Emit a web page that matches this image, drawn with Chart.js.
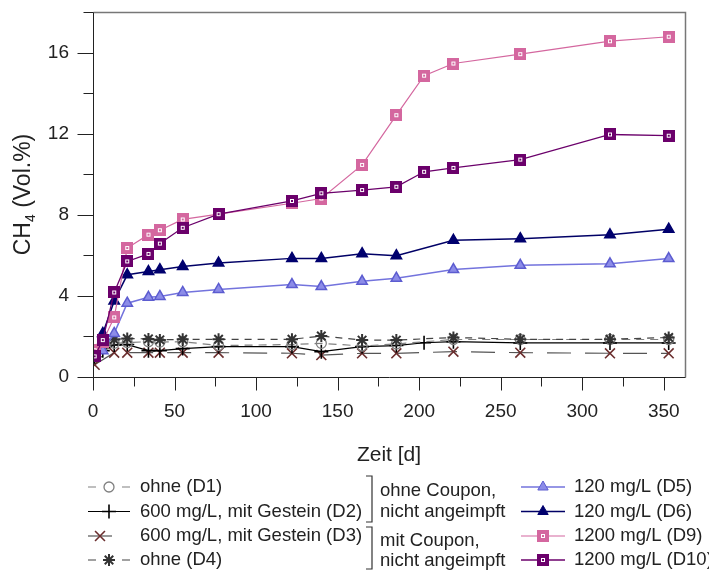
<!DOCTYPE html>
<html>
<head>
<meta charset="utf-8">
<script src="https://cdn.jsdelivr.net/npm/chart.js@4/dist/chart.umd.min.js"></script>
<style>
  body { margin: 0; background: #fff; }
  #wrap { width: 709px; height: 573px; }
</style>
</head>
<body>
<div id="wrap"><canvas id="chartCH4" width="709" height="573"></canvas></div>
<script>
// Messzeitpunkte (Tage)
const days = [1, 6, 13, 21, 34, 41, 55, 77, 122, 140, 165, 186, 203, 221, 262, 317, 353];

// CH4-Gehalt (Vol.%) je Ansatz, null = kein Messwert
const d1  = [1.1, 1.5, 1.66, 1.7, 1.74, 1.72, 1.74, 1.55, 1.6, 1.66, 1.53, 1.63, null, 1.85, 1.85, 1.85, 1.85];
const d2  = [1.0, 1.3, 1.58, 1.6, 1.3, 1.3, 1.4, 1.5, 1.5, 1.25, 1.5, 1.55, 1.69, 1.74, 1.68, 1.68, 1.68];
const d3  = [0.6, null, 1.2, 1.2, 1.2, 1.2, 1.2, 1.2, 1.17, 1.08, 1.17, 1.17, null, 1.25, 1.2, 1.17, 1.17];
const d4  = [1.1, 1.6, 1.85, 1.9, 1.88, 1.83, 1.86, 1.86, 1.86, 2.02, 1.82, 1.82, null, 1.95, 1.86, 1.86, 1.95];
const d5  = [1.0, 1.3, 2.15, 3.64, 3.93, 3.97, 4.17, 4.32, 4.56, 4.46, 4.72, 4.87, null, 5.3, 5.51, 5.58, 5.84];
const d6  = [1.1, 2.15, 3.75, 5.04, 5.2, 5.29, 5.45, 5.62, 5.85, 5.85, 6.08, 5.98, null, 6.74, 6.82, 7.01, 7.29];
const d9  = [1.32, 1.75, 2.94, 6.36, 7.02, 7.24, 7.77, 8.03, 8.57, 8.8, 10.46, 12.91, 14.86, 15.46, 15.92, 16.56, 16.78];
const d10 = [1.02, 1.82, 4.17, 5.7, 6.07, 6.58, 7.36, 8.03, 8.68, 9.06, 9.22, 9.38, 10.12, 10.31, 10.72, 11.96, 11.9];

const yTicks = [0, 4, 8, 12, 16];
const xTicks = [0, 50, 100, 150, 200, 250, 300, 350];

const FONT = '"Liberation Sans", Arial, sans-serif';
const TEXT = '#222';

const pts = (arr) => days.map((d, i) => ({ x: d, y: arr[i] }));

// quadratischer Marker mit kleinem weissen Kern
function squareMarker(fill) {
    const c = document.createElement('canvas');
    c.width = 12; c.height = 12;
    const g = c.getContext('2d');
    g.fillStyle = fill;
    g.fillRect(0, 0, 12, 12);
    g.strokeStyle = '#fff';
    g.lineWidth = 1;
    g.strokeRect(4.5, 4.5, 3, 3);
    return c;
}
const sqPink = squareMarker('#d4679f');
const sqPurple = squareMarker('#6b006b');

const datasets = [
    { label: '1200 mg/L (D10)', data: pts(d10), borderColor: '#6b006b', borderWidth: 1.3,
      pointStyle: sqPurple, order: 1 },
    { label: '1200 mg/L (D9)', data: pts(d9), borderColor: '#d4679f', borderWidth: 1.2,
      pointStyle: sqPink, order: 2 },
    { label: '120 mg/L (D6)', data: pts(d6), borderColor: '#000066', borderWidth: 1.5,
      pointStyle: 'triangle', pointRadius: 6, pointBackgroundColor: '#00006e', pointBorderColor: '#00006e', order: 3 },
    { label: '120 mg/L (D5)', data: pts(d5), borderColor: '#7373dd', borderWidth: 1.5,
      pointStyle: 'triangle', pointRadius: 6, pointBackgroundColor: '#8c8ce8', pointBorderColor: '#5c5cd0', order: 4 },
    { label: 'ohne (D4)', data: pts(d4), borderColor: '#444', borderWidth: 1.2, borderDash: [7, 6],
      pointStyle: 'star', pointRadius: 6, pointBorderColor: '#333', pointBorderWidth: 2, order: 5 },
    { label: 'ohne (D1)', data: pts(d1), borderColor: '#808080', borderWidth: 1.2, borderDash: [8, 6],
      pointStyle: 'circle', pointRadius: 5, pointBackgroundColor: 'rgba(0,0,0,0)', pointBorderColor: '#808080', pointBorderWidth: 1.3, order: 6 },
    { label: '600 mg/L, mit Gestein (D2)', data: pts(d2), borderColor: '#000', borderWidth: 1.2,
      pointStyle: 'cross', pointRadius: 7, pointBorderColor: '#000', pointBorderWidth: 1.6, order: 7 },
    { label: '600 mg/L, mit Gestein (D3)', data: pts(d3), borderColor: '#555', borderWidth: 1.2, borderDash: [24, 14],
      pointStyle: 'crossRot', pointRadius: 7, pointBorderColor: '#6b2e2e', pointBorderWidth: 1.6, order: 8 }
];
datasets.forEach(ds => { ds.spanGaps = true; ds.tension = 0; ds.fill = false; });

// Achsenrahmen, Teilstriche, Achsentitel und Legende
const decorPlugin = {
    id: 'decor',
    afterDraw(chart) {
        const ctx = chart.ctx;
        const a = chart.chartArea;
        const xs = chart.scales.x, ys = chart.scales.y;
        const L = Math.round(a.left) + 0.5, R = Math.round(a.right) + 0.5;
        const T = Math.round(a.top) + 0.5, B = Math.round(a.bottom) + 0.5;
        ctx.save();

        // Rahmen oben/rechts grau, Achsen links/unten dunkel
        ctx.strokeStyle = '#777';
        ctx.lineWidth = 1.5;
        ctx.beginPath();
        ctx.moveTo(L, T); ctx.lineTo(R, T); ctx.lineTo(R, B);
        ctx.stroke();
        ctx.strokeStyle = '#222';
        ctx.lineWidth = 1;
        ctx.beginPath();
        ctx.moveTo(L, T); ctx.lineTo(L, B); ctx.lineTo(R, B);
        for (let v = 0; v <= 350; v += 25) {
            const px = Math.round(xs.getPixelForValue(v)) + 0.5;
            ctx.moveTo(px, B);
            ctx.lineTo(px, B + (v % 50 === 0 ? 13 : 9));
        }
        for (let v = 0; v <= 18; v += 2) {
            const py = Math.round(ys.getPixelForValue(v)) + 0.5;
            ctx.moveTo(L, py);
            ctx.lineTo(L - (v % 4 === 0 ? 16 : 10), py);
        }
        ctx.stroke();

        // Achsentitel
        ctx.fillStyle = TEXT;
        ctx.textBaseline = 'middle';
        ctx.font = '21px ' + FONT;
        ctx.textAlign = 'center';
        ctx.fillText('Zeit [d]', (a.left + a.right) / 2, 455);

        ctx.save();
        ctx.translate(24, (a.top + a.bottom) / 2);
        ctx.rotate(-Math.PI / 2);
        ctx.textAlign = 'left';
        const big = '23px ' + FONT, small = '14px ' + FONT;
        ctx.font = big;
        const wCH = ctx.measureText('CH').width;
        const wRest = ctx.measureText(' (Vol.%)').width;
        ctx.font = small;
        const w4 = ctx.measureText('4').width;
        const x0 = -(wCH + w4 + wRest) / 2;
        ctx.font = big;
        ctx.fillText('CH', x0, 0);
        ctx.font = small;
        ctx.fillText('4', x0 + wCH, 7);
        ctx.font = big;
        ctx.fillText(' (Vol.%)', x0 + wCH + w4, 0);
        ctx.restore();

        // Legende
        const rows = [487, 511.5, 536, 560];
        ctx.font = '18.5px ' + FONT;
        ctx.textAlign = 'left';
        const left = [datasets[5], datasets[6], datasets[7], datasets[4]];
        const right = [datasets[3], datasets[2], datasets[1], datasets[0]];
        const drawSample = (ds, x1, x2, y, broken) => {
            const mid = (x1 + x2) / 2;
            ctx.save();
            ctx.strokeStyle = ds.borderColor;
            ctx.lineWidth = ds.borderWidth;
            ctx.beginPath();
            if (broken) {
                ctx.moveTo(x1, y); ctx.lineTo(x1 + 8, y);
                ctx.moveTo(x2 - 8, y); ctx.lineTo(x2, y);
            } else {
                ctx.moveTo(x1, y); ctx.lineTo(x2, y);
            }
            ctx.stroke();
            ctx.restore();
            const opts = {
                pointStyle: ds.pointStyle,
                radius: ds.pointRadius || 6,
                borderWidth: ds.pointBorderWidth || 1,
                rotation: 0
            };
            ctx.save();
            ctx.fillStyle = ds.pointBackgroundColor || ds.borderColor;
            ctx.strokeStyle = ds.pointBorderColor || ds.borderColor;
            ctx.lineWidth = opts.borderWidth;
            Chart.helpers.drawPoint(ctx, opts, mid, y);
            ctx.restore();
        };
        left.forEach((ds, i) => {
            const y = rows[i];
            if (i === 2) {
                drawSample({ borderColor: '#555', borderWidth: 1.2, pointStyle: 'crossRot', pointRadius: 7,
                             pointBorderColor: ds.pointBorderColor, pointBorderWidth: 1.6 }, 88, 112, y, false);
            } else {
                drawSample(ds, 88, 130, y, i === 0 || i === 3);
            }
            ctx.fillStyle = TEXT;
            ctx.fillText(ds.label, 140, y);
        });
        right.forEach((ds, i) => {
            drawSample(ds, 521, 565, rows[i], false);
            ctx.fillStyle = TEXT;
            ctx.fillText(ds.label, 574, rows[i]);
        });

        // Klammern fuer die Gruppen
        ctx.strokeStyle = '#333';
        ctx.lineWidth = 1.2;
        const bracket = (y1, y2) => {
            ctx.beginPath();
            ctx.moveTo(366, y1); ctx.lineTo(372, y1); ctx.lineTo(372, y2); ctx.lineTo(366, y2);
            ctx.stroke();
        };
        bracket(476, 522);
        bracket(527, 569);
        ctx.fillStyle = TEXT;
        ctx.fillText('ohne Coupon,', 380, 491);
        ctx.fillText('nicht angeimpft', 380, 512);
        ctx.fillText('mit Coupon,', 380, 541);
        ctx.fillText('nicht angeimpft', 380, 561);
        ctx.restore();
    }
};

new Chart(document.getElementById('chartCH4'), {
    type: 'line',
    data: { datasets: datasets },
    options: {
        responsive: false,
        animation: false,
        layout: { padding: { top: 12, right: 24, left: 0, bottom: 0 } },
        plugins: { legend: { display: false }, tooltip: { enabled: false } },
        elements: { point: { radius: 6, hoverRadius: 6 } },
        scales: {
            x: {
                type: 'linear', min: 0, max: 363,
                border: { display: false },
                grid: { drawOnChartArea: false, drawTicks: true, tickLength: 13, tickColor: 'rgba(0,0,0,0)' },
                ticks: { stepSize: 50, includeBounds: false, padding: 10, color: TEXT, font: { size: 19, family: FONT },
                         maxRotation: 0, autoSkip: false },
                afterBuildTicks: (s) => { s.ticks = xTicks.map(v => ({ value: v })); },
                afterFit: (s) => { s.height = 196; s.paddingLeft = 0; s.paddingRight = 0; }
            },
            y: {
                min: 0, max: 18,
                border: { display: false },
                grid: { drawOnChartArea: false, drawTicks: true, tickLength: 16, tickColor: 'rgba(0,0,0,0)' },
                ticks: { stepSize: 4, padding: 8, color: TEXT, font: { size: 19, family: FONT } },
                afterBuildTicks: (s) => { s.ticks = yTicks.map(v => ({ value: v })); },
                afterFit: (s) => { s.width = 93; s.paddingTop = 0; s.paddingBottom = 0; }
            }
        }
    },
    plugins: [decorPlugin]
});
</script>
</body>
</html>
